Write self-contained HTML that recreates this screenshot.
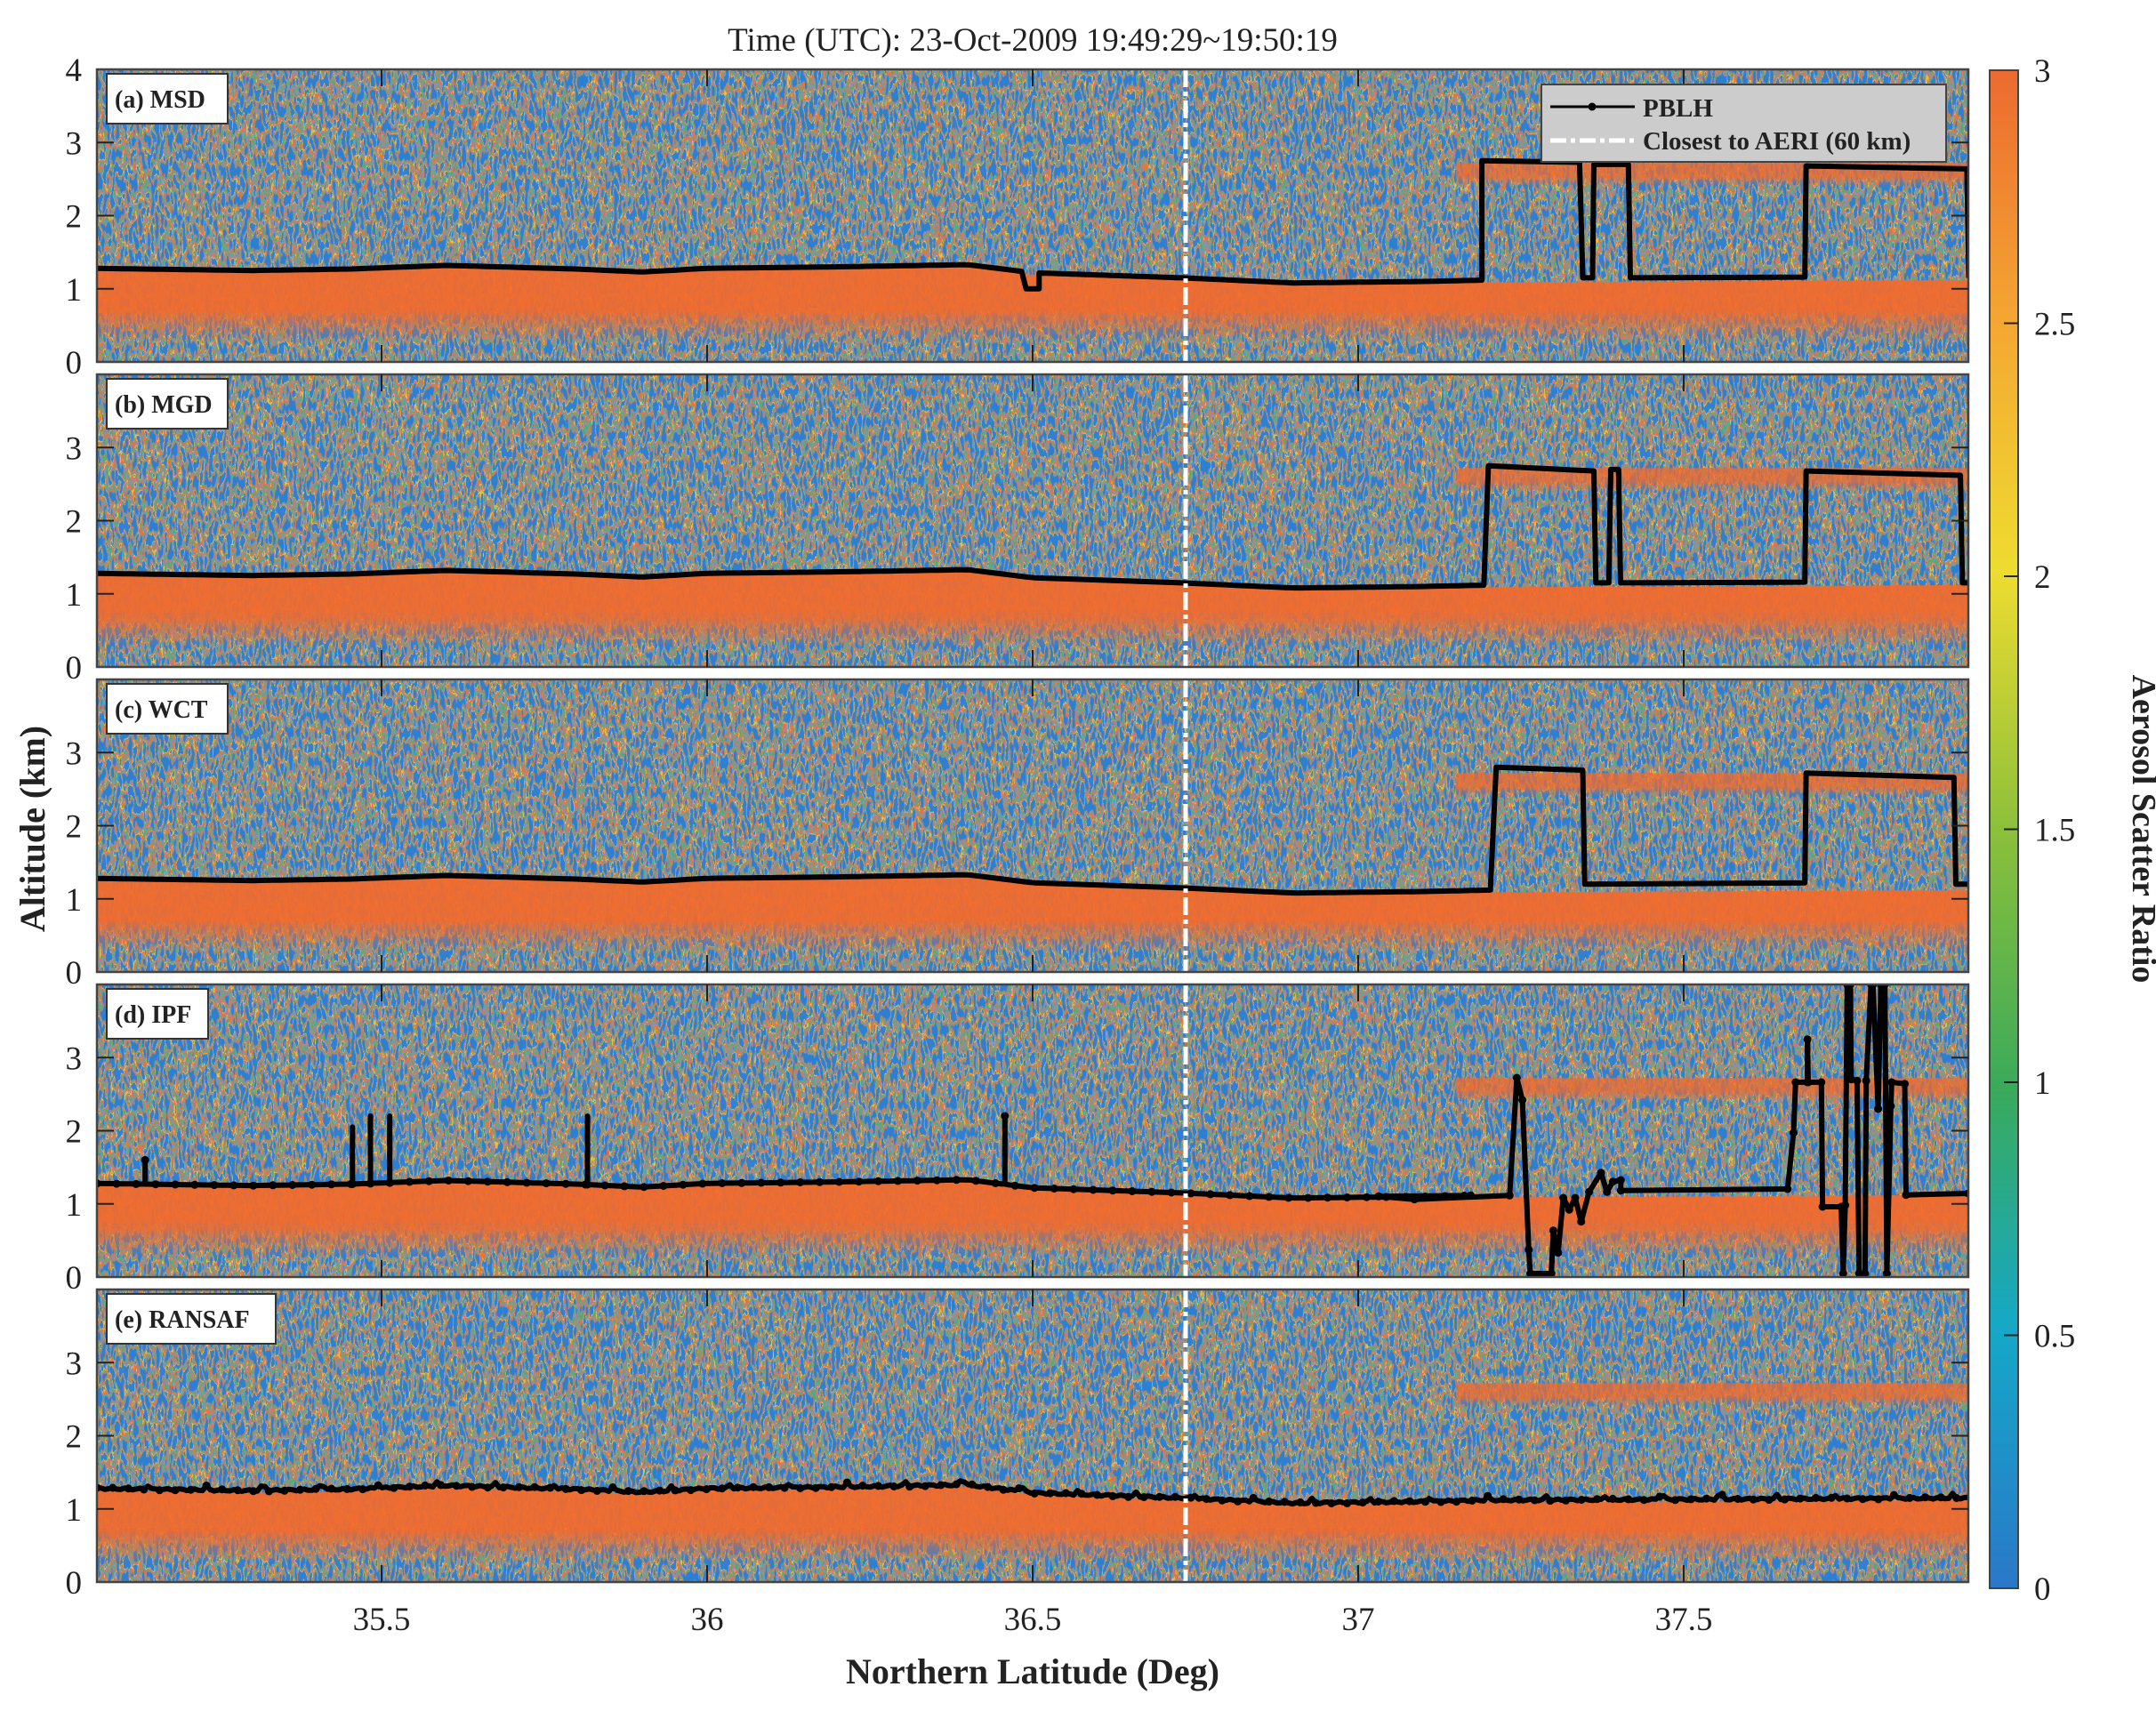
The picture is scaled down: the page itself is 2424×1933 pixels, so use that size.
<!DOCTYPE html>
<html><head><meta charset="utf-8">
<style>
html,body{margin:0;padding:0;background:#fff;}
svg{display:block;}
text{font-family:"Liberation Serif",serif;fill:#222;}
</style></head>
<body>
<svg id="s" width="2424" height="1933" viewBox="0 0 2424 1933" xmlns="http://www.w3.org/2000/svg">
<defs>
<filter id="nz" x="0" y="0" width="100%" height="100%" color-interpolation-filters="sRGB">
<feTurbulence type="fractalNoise" baseFrequency="0.2 0.06" numOctaves="2" seed="7" result="t"/>
<feColorMatrix in="t" type="matrix" values="1 0 0 0 0  1 0 0 0 0  1 0 0 0 0  0 0 0 0 1"/>
<feComponentTransfer>
<feFuncR type="linear" slope="3.2" intercept="-1.1"/>
<feFuncG type="linear" slope="3.2" intercept="-1.1"/>
<feFuncB type="linear" slope="3.2" intercept="-1.1"/>
</feComponentTransfer>
<feComponentTransfer>
<feFuncR type="discrete" tableValues="0.18 0.22 0.93 0.55 0.30 0.60 0.93 0.85 0.30 0.20"/>
<feFuncG type="discrete" tableValues="0.50 0.55 0.45 0.58 0.68 0.56 0.45 0.78 0.58 0.50"/>
<feFuncB type="discrete" tableValues="0.82 0.84 0.22 0.64 0.45 0.66 0.22 0.30 0.78 0.82"/>
<feFuncA type="linear" slope="0" intercept="1"/>
</feComponentTransfer>
</filter>
<linearGradient id="fade" x1="0" y1="0" x2="0" y2="1">
<stop offset="0" stop-color="#f26a2c" stop-opacity="0.95"/>
<stop offset="1" stop-color="#f26a2c" stop-opacity="0"/>
</linearGradient>
<linearGradient id="cb" x1="0" y1="1" x2="0" y2="0">
<stop offset="0" stop-color="#2a78c8"/>
<stop offset="0.17" stop-color="#15a8c8"/>
<stop offset="0.33" stop-color="#3aaa5a"/>
<stop offset="0.5" stop-color="#8cc03a"/>
<stop offset="0.67" stop-color="#eedc30"/>
<stop offset="0.83" stop-color="#f4a832"/>
<stop offset="1" stop-color="#ec6a30"/>
</linearGradient>
</defs>
<g id="g"></g>
</svg>
<script>
(function(){
var g=document.getElementById('g');
var L=109,R=2213,H=329,tops=[78,421,764,1107,1450];
function X(lat){return 429+(lat-35.5)*732;}
function latd(d){return 35.5+(d*1.554-429)/732;}
var s='';
var low=[[35.06,1.28],[35.3,1.25],[35.45,1.27],[35.6,1.32],[35.8,1.27],[35.9,1.23],[36.0,1.28],[36.2,1.30],[36.4,1.33],[36.5,1.22],[36.73,1.15],[36.9,1.08],[37.1,1.1],[37.2,1.12],[37.5,1.13],[37.94,1.15]];
function lowAt(lat){for(var i=0;i<low.length-1;i++){if(lat<=low[i+1][0]){var a=low[i],b=low[i+1];return a[1]+(b[1]-a[1])*(lat-a[0])/(b[0]-a[0]);}}return 1.15;}
var names=['(a) MSD','(b) MGD','(c) WCT','(d) IPF','(e) RANSAF'];
function Yk(p,k){return tops[p]+H-k*82.25;}
function lowPts(p,a,b){var pts=[];for(var l=a;l<=b+1e-9;l+=0.01){pts.push([X(l),Yk(p,lowAt(l))]);}return pts;}
var series=[];
(function(){var p=0,pts=lowPts(p,35.063,36.49);pts.push([X(36.49),Yk(p,1.0)],[X(36.51),Yk(p,1.0)],[X(36.51),Yk(p,lowAt(36.51))]);
pts=pts.concat(lowPts(p,36.52,37.19));
pts.push([X(37.19),Yk(p,2.75)],[X(37.34),Yk(p,2.73)],[X(37.345),Yk(p,1.15)],[X(37.36),Yk(p,1.15)],[X(37.362),Yk(p,2.7)],[X(37.415),Yk(p,2.7)],[X(37.418),Yk(p,1.15)],[X(37.686),Yk(p,1.16)],[X(37.688),Yk(p,2.68)],[X(37.935),Yk(p,2.64)],[X(37.938),Yk(p,1.15)]);series.push(pts);})();
(function(){var p=1,pts=lowPts(p,35.063,37.2);
pts.push([X(37.2),Yk(p,2.75)],[X(37.362),Yk(p,2.68)],[X(37.365),Yk(p,1.15)],[X(37.385),Yk(p,1.15)],[X(37.388),Yk(p,2.7)],[X(37.4),Yk(p,2.7)],[X(37.403),Yk(p,1.15)],[X(37.686),Yk(p,1.16)],[X(37.688),Yk(p,2.68)],[X(37.925),Yk(p,2.62)],[X(37.928),Yk(p,1.15)],[X(37.938),Yk(p,1.15)]);series.push(pts);})();
(function(){var p=2,pts=lowPts(p,35.063,37.21);
pts.push([X(37.212),Yk(p,2.8)],[X(37.345),Yk(p,2.76)],[X(37.348),Yk(p,1.2)],[X(37.686),Yk(p,1.22)],[X(37.688),Yk(p,2.72)],[X(37.915),Yk(p,2.66)],[X(37.918),Yk(p,1.2)],[X(37.938),Yk(p,1.2)]);series.push(pts);})();
(function(){var p=3,pts=[];var spikes=[[105,1.6],[255,2.05],[268,2.2],[282,2.2],[425,2.2],[727,2.2]];
var base=lowPts(p,35.063,37.18);
for(var i=0;i<base.length;i++){pts.push(base[i]);
 for(var j=0;j<spikes.length;j++){var sx=X(latd(spikes[j][0]));if(base[i][0]<=sx&&i+1<base.length&&base[i+1][0]>sx){pts.push([sx,base[i][1]],[sx,Yk(p,spikes[j][1])],[sx,base[i][1]]);}}}
var z=[[0,715],[90,725],[330,712],[348,315],[362,390],[378,895],[382,975],[435,975],[440,830],[452,905],[465,720],[480,760],[495,720],[510,800],[530,700],[560,635],[575,700],[590,665],[610,660],[610,695],[1030,690],[1045,500],[1050,330],[1080,330],[1080,185],[1082,330],[1115,330],[1118,750],[1165,750],[1170,975],[1175,745],[1180,0],[1188,0],[1190,320],[1205,325],[1210,975],[1225,975],[1228,325],[1240,0],[1245,0],[1258,420],[1265,0],[1275,0],[1280,975],[1290,410],[1292,330],[1325,335],[1328,710],[1485,705]];
for(var k=0;k<z.length;k++)pts.push([1550+z[k][0]/2.24,1107+z[k][1]/3]);
series.push(pts);})();
(function(){var p=4,pts=[];for(var l=35.063;l<=37.938;l+=0.006){pts.push([X(l),Yk(p,lowAt(l)+0.012*Math.sin(l*300)+(Math.sin(l*977)>0.97?0.05:0))]);}series.push(pts);})();

for(var p=0;p<5;p++){
 var T=tops[p];
 s+='<clipPath id="c'+p+'"><rect x="'+L+'" y="'+T+'" width="'+(R-L)+'" height="'+H+'"/></clipPath>';
 s+='<g clip-path="url(#c'+p+')">';
 s+='<rect x="'+L+'" y="'+T+'" width="'+(R-L)+'" height="'+H+'" filter="url(#nz)"/>';
 var top=[],bot=[];
 for(var l=35.06;l<=37.95;l+=0.02){var k=lowAt(l);top.push(X(l).toFixed(1)+','+Yk(p,k-0.03).toFixed(1));bot.push(X(l).toFixed(1)+','+Yk(p,0.72).toFixed(1));}
 s+='<polygon points="'+top.join(' ')+' '+bot.reverse().join(' ')+'" fill="#f26a2c" opacity="0.93"/>';
 s+='<rect x="'+L+'" y="'+Yk(p,0.72)+'" width="'+(R-L)+'" height="'+(0.45*82.25)+'" fill="url(#fade)"/>';
 s+='<rect x="'+X(37.15)+'" y="'+Yk(p,2.72)+'" width="'+(R-X(37.15))+'" height="'+(0.2*82.25)+'" fill="#f26a2c" opacity="0.75"/>';
 s+='<rect x="'+X(37.15)+'" y="'+Yk(p,2.52)+'" width="'+(R-X(37.15))+'" height="'+(0.12*82.25)+'" fill="url(#fade)" opacity="0.7"/>';
 var pts=series[p].map(function(q){return q[0].toFixed(1)+','+q[1].toFixed(1);}).join(' ');
 s+='<polyline points="'+pts+'" fill="none" stroke="#000" stroke-width="6" stroke-linejoin="round"/>';
 if(p>=3){var sr=series[p];for(var i=0;i<sr.length;i+=(p==4?4:1)){if(p==3&&i<sr.length-50&&i%3)continue;s+='<circle cx="'+sr[i][0].toFixed(1)+'" cy="'+sr[i][1].toFixed(1)+'" r="4.5" fill="#000"/>';}}
 s+='</g>';
 s+='<line x1="1333" y1="'+T+'" x2="1333" y2="'+(T+H)+'" stroke="#fff" stroke-width="5" stroke-dasharray="20 5 5 5"/>';
 s+='<rect x="'+L+'" y="'+T+'" width="'+(R-L)+'" height="'+H+'" fill="none" stroke="#444" stroke-width="2.5"/>';
 var mx=p==0?4:3;
 for(var k=0;k<=4;k++){var y=Yk(p,k);
  if(k>0&&k<4){s+='<line x1="'+L+'" y1="'+y+'" x2="'+(L+19)+'" y2="'+y+'" stroke="#222" stroke-width="2"/><line x1="'+(R-19)+'" y1="'+y+'" x2="'+R+'" y2="'+y+'" stroke="#222" stroke-width="2"/>';}
  if(k<=mx)s+='<text x="92" y="'+(y+13)+'" font-size="37" text-anchor="end">'+k+'</text>';}
 [35.5,36,36.5,37,37.5].forEach(function(v){var x=X(v);s+='<line x1="'+x+'" y1="'+T+'" x2="'+x+'" y2="'+(T+19)+'" stroke="#222" stroke-width="2"/><line x1="'+x+'" y1="'+(T+H-19)+'" x2="'+x+'" y2="'+(T+H)+'" stroke="#222" stroke-width="2"/>';});
 var w=[136,136,136,114,190][p];
 s+='<rect x="120" y="'+(T+5)+'" width="'+w+'" height="56" fill="#fff" stroke="#333" stroke-width="2"/>';
 s+='<text x="129" y="'+(T+43)+'" font-size="28" font-weight="bold" fill="#000">'+names[p]+'</text>';
}
s+='<rect x="1733" y="95" width="455" height="87" fill="#cccccc" stroke="#444" stroke-width="2"/>';
s+='<line x1="1743" y1="120" x2="1838" y2="120" stroke="#000" stroke-width="3"/><circle cx="1790" cy="120" r="4.5" fill="#000"/>';
s+='<line x1="1743" y1="158" x2="1838" y2="158" stroke="#fff" stroke-width="5" stroke-dasharray="18 5 5 5"/>';
s+='<text x="1847" y="131" font-size="29" font-weight="bold" fill="#000">PBLH</text>';
s+='<text x="1847" y="168" font-size="29" font-weight="bold" fill="#000">Closest to AERI (60 km)</text>';
[35.5,36,36.5,37,37.5].forEach(function(v){s+='<text x="'+X(v)+'" y="1833" font-size="37" text-anchor="middle">'+v+'</text>';});
s+='<text x="1161" y="1893" font-size="40" font-weight="bold" text-anchor="middle">Northern Latitude (Deg)</text>';
s+='<text x="1161" y="57" font-size="37" text-anchor="middle">Time (UTC): 23-Oct-2009 19:49:29~19:50:19</text>';
s+='<text transform="translate(50,932) rotate(-90)" font-size="40" font-weight="bold" text-anchor="middle">Altitude (km)</text>';
var cT=79,cB=1786;
s+='<rect x="2237" y="'+cT+'" width="32" height="'+(cB-cT)+'" fill="url(#cb)" stroke="#444" stroke-width="2"/>';
[0,0.5,1,1.5,2,2.5,3].forEach(function(v){var y=cB-v/3*(cB-cT);
 if(v>0&&v<3)s+='<line x1="2253" y1="'+y+'" x2="2269" y2="'+y+'" stroke="#222" stroke-width="2"/>';
 s+='<text x="2287" y="'+(y+13)+'" font-size="37">'+v+'</text>';});
s+='<text transform="translate(2398,932) rotate(90)" font-size="38" font-weight="bold" text-anchor="middle">Aerosol Scatter Ratio</text>';
g.innerHTML=s;
})();
</script>
</body></html>
